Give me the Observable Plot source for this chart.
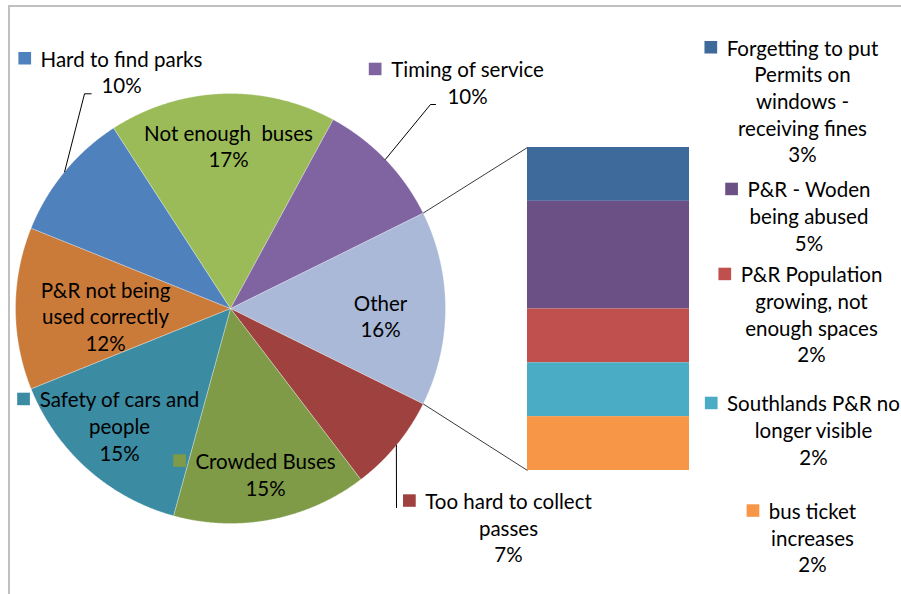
<!DOCTYPE html>
<html><head><meta charset="utf-8">
<script src="https://cdn.jsdelivr.net/npm/d3@7"></script>
<script src="https://cdn.jsdelivr.net/npm/@observablehq/plot@0.6"></script>
<style>
body{margin:0;background:#fff;}
#wrap{position:relative;width:901px;height:594px;overflow:hidden;background:#fff;}
#chart{position:absolute;left:0;top:0;}
#frame{position:absolute;left:8px;top:5px;width:960px;height:700px;border-top:2px solid #C0C0C0;border-left:2px solid #C0C0C0;pointer-events:none;}
svg text{white-space:pre;}
</style></head>
<body><div id="wrap"><div id="chart"></div><div id="frame"></div></div>
<script>
// ---- data ----
const primaryCategories = ["Too hard to collect passes","Crowded Buses","Safety of cars and people","P&R not being used correctly","Hard to find parks","Not enough  buses","Timing of service"];
const primaryValues = [3,6,6,5,4,7,4];
const primaryPctLabels = ["7%","15%","15%","12%","10%","17%","10%"];
const otherCategory = "Other";
const otherPctLabel = "16%";
const secondaryCategories = ["Forgetting to put Permits on windows - receiving fines","P&R - Woden being abused","P&R Population growing, not enough spaces","Southlands P&R no longer visible","bus ticket increases"];
const secondaryValues = [1,2,1,1,1];
const secondaryPctLabels = ["3%","5%","2%","2%","2%"];

// ---- styles ----
const primaryColors = ["#9E413F","#7F9B48","#3B8BA3","#CB7B39","#4F81BD","#9BBB59","#8064A2"];
const otherColor = "#A9B9D7";
const secondaryColors = ["#3E699B","#6A5085","#C0504D","#4BACC6","#F79646"];

// ---- layout ----
const FS = 20.5, LH = 26.7, FONT = "Lato";
const PIE = {cx:230, cy:308, r:215};
const BAR = {x0:527, x1:689, top:147, bottom:470};
const labelLayout = {
  "Too hard to collect passes": {x:508, b:508.3, lines:["Too hard to collect","passes"], key:true, leader:[[396,507]]},
  "Crowded Buses": {x:265, b:468.3, lines:["Crowded Buses"], key:true},
  "Safety of cars and people": {x:119, b:406.7, lines:["Safety of cars and","people"], key:true},
  "P&R not being used correctly": {x:105, b:297, lines:["P&R not being","used correctly"], key:false},
  "Hard to find parks": {x:121, b:66, lines:["Hard to find parks"], key:true, leader:[[84,93.3],[90.7,93.3]]},
  "Not enough  buses": {x:228, b:140, lines:["Not enough  buses"], key:false},
  "Timing of service": {x:467, b:76.7, lines:["Timing of service"], key:true, leader:[[430,104],[435,104]]},
  "Other": {x:380, b:310, lines:["Other"], key:false},
  "Forgetting to put Permits on windows - receiving fines": {x:802, b:55, lines:["Forgetting to put","Permits on","windows -","receiving fines"], key:true},
  "P&R - Woden being abused": {x:808.5, b:196.7, lines:["P&R - Woden","being abused"], key:true},
  "P&R Population growing, not enough spaces": {x:811, b:281.7, lines:["P&R Population","growing, not","enough spaces"], key:true},
  "Southlands P&R no longer visible": {x:813, b:410.7, lines:["Southlands P&R no","longer visible"], key:true},
  "bus ticket increases": {x:812, b:518.3, lines:["bus ticket","increases"], key:true}
};

// ---- build pie ----
const pieItems = [{name:otherCategory, value:d3.sum(secondaryValues), color:otherColor, pct:otherPctLabel}]
  .concat(primaryCategories.map((c,i)=>({name:c, value:primaryValues[i], color:primaryColors[i], pct:primaryPctLabels[i]})));
const total = d3.sum(pieItems, d=>d.value);
const otherAngle = pieItems[0].value/total*2*Math.PI;
const a0 = Math.PI/2 - otherAngle/2;
const arcs = d3.pie().sort(null).value(d=>d.value).startAngle(a0).endAngle(a0+2*Math.PI)(pieItems);
const pt = (a, r=PIE.r) => [PIE.cx + r*Math.sin(a), PIE.cy - r*Math.cos(a)];

const sliceRows = [];
arcs.forEach(a=>{
  sliceRows.push({slice:a.data.name, color:a.data.color, x:PIE.cx, y:PIE.cy});
  const n = Math.max(8, Math.ceil((a.endAngle-a.startAngle)/(Math.PI/720)));
  for(let k=0;k<=n;k++){
    const ang = a.startAngle + (a.endAngle-a.startAngle)*k/n;
    const [x,y] = pt(ang);
    sliceRows.push({slice:a.data.name, color:a.data.color, x, y});
  }
  sliceRows.push({slice:a.data.name, color:a.data.color, x:PIE.cx, y:PIE.cy});
});

// ---- build bar ----
const unit = (BAR.bottom-BAR.top)/d3.sum(secondaryValues);
let cum = 0;
const barRows = secondaryCategories.map((c,i)=>{
  const r = {name:c, color:secondaryColors[i], pct:secondaryPctLabels[i], y1:BAR.top+cum*unit, y2:BAR.top+(cum+secondaryValues[i])*unit};
  cum += secondaryValues[i];
  return r;
});

// connectors
const otherArc = arcs[0];
const pS = pt(otherArc.startAngle), pE = pt(otherArc.endAngle);
const connectors = [
  {x1:pS[0], y1:pS[1], x2:BAR.x0, y2:BAR.top},
  {x1:pE[0], y1:pE[1], x2:BAR.x0, y2:BAR.bottom}
];

// labels
const ctx = document.createElement("canvas").getContext("2d");
ctx.font = `${FS}px ${FONT}`;
const labelItems = arcs.map(a=>({name:a.data.name, pct:a.data.pct, mid:(a.startAngle+a.endAngle)/2}))
  .concat(barRows.map(r=>({name:r.name, pct:r.pct, color:r.color})));
const textRows = [], keyRows = [], leaderRows = [];
labelItems.forEach(it=>{
  const L = labelLayout[it.name];
  const lines = L.lines.concat([it.pct]);
  textRows.push({x:L.x, y:L.b+(lines.length-1)*LH, text:lines.join("\n")});
  if (L.key) {
    const w = ctx.measureText(L.lines[0]).width;
    const color = it.color || arcs.find(a=>a.data.name===it.name).data.color;
    keyRows.push({x1:L.x-w/2-9-12.7, x2:L.x-w/2-9, y1:L.b-14, y2:L.b-1.5, color});
  }
  if (L.leader) {
    const e = pt(it.mid);
    leaderRows.push({id:it.name, x:e[0], y:e[1]});
    L.leader.forEach(p=>leaderRows.push({id:it.name, x:p[0], y:p[1]}));
  }
});

const chart = Plot.plot({
  width:901, height:594, margin:0,
  x:{domain:[0,901], range:[0,901], axis:null},
  y:{domain:[0,594], range:[0,594], axis:null},
  color:{type:"identity"},
  style:{background:"transparent"},
  marks:[
    Plot.line(sliceRows, {x:"x", y:"y", z:"slice", fill:"color", stroke:"#ffffff", strokeWidth:0.5, strokeOpacity:0.6}),
    Plot.rect(barRows, {x1:()=>BAR.x0, x2:()=>BAR.x1, y1:"y1", y2:"y2", fill:"color"}),
    Plot.link(connectors, {x1:"x1", y1:"y1", x2:"x2", y2:"y2", stroke:"#3a3a3a", strokeWidth:1}),
    Plot.line(leaderRows, {x:"x", y:"y", z:"id", stroke:"#000", strokeWidth:1}),
    Plot.rect(keyRows, {x1:"x1", x2:"x2", y1:"y1", y2:"y2", fill:"color"}),
    Plot.text(textRows, {x:"x", y:"y", text:"text", lineAnchor:"bottom", lineHeight:LH/FS, fontSize:FS, fontFamily:FONT, fill:"#000", textAnchor:"middle"})
  ]
});
document.getElementById("chart").appendChild(chart);
</script>
</body></html>
